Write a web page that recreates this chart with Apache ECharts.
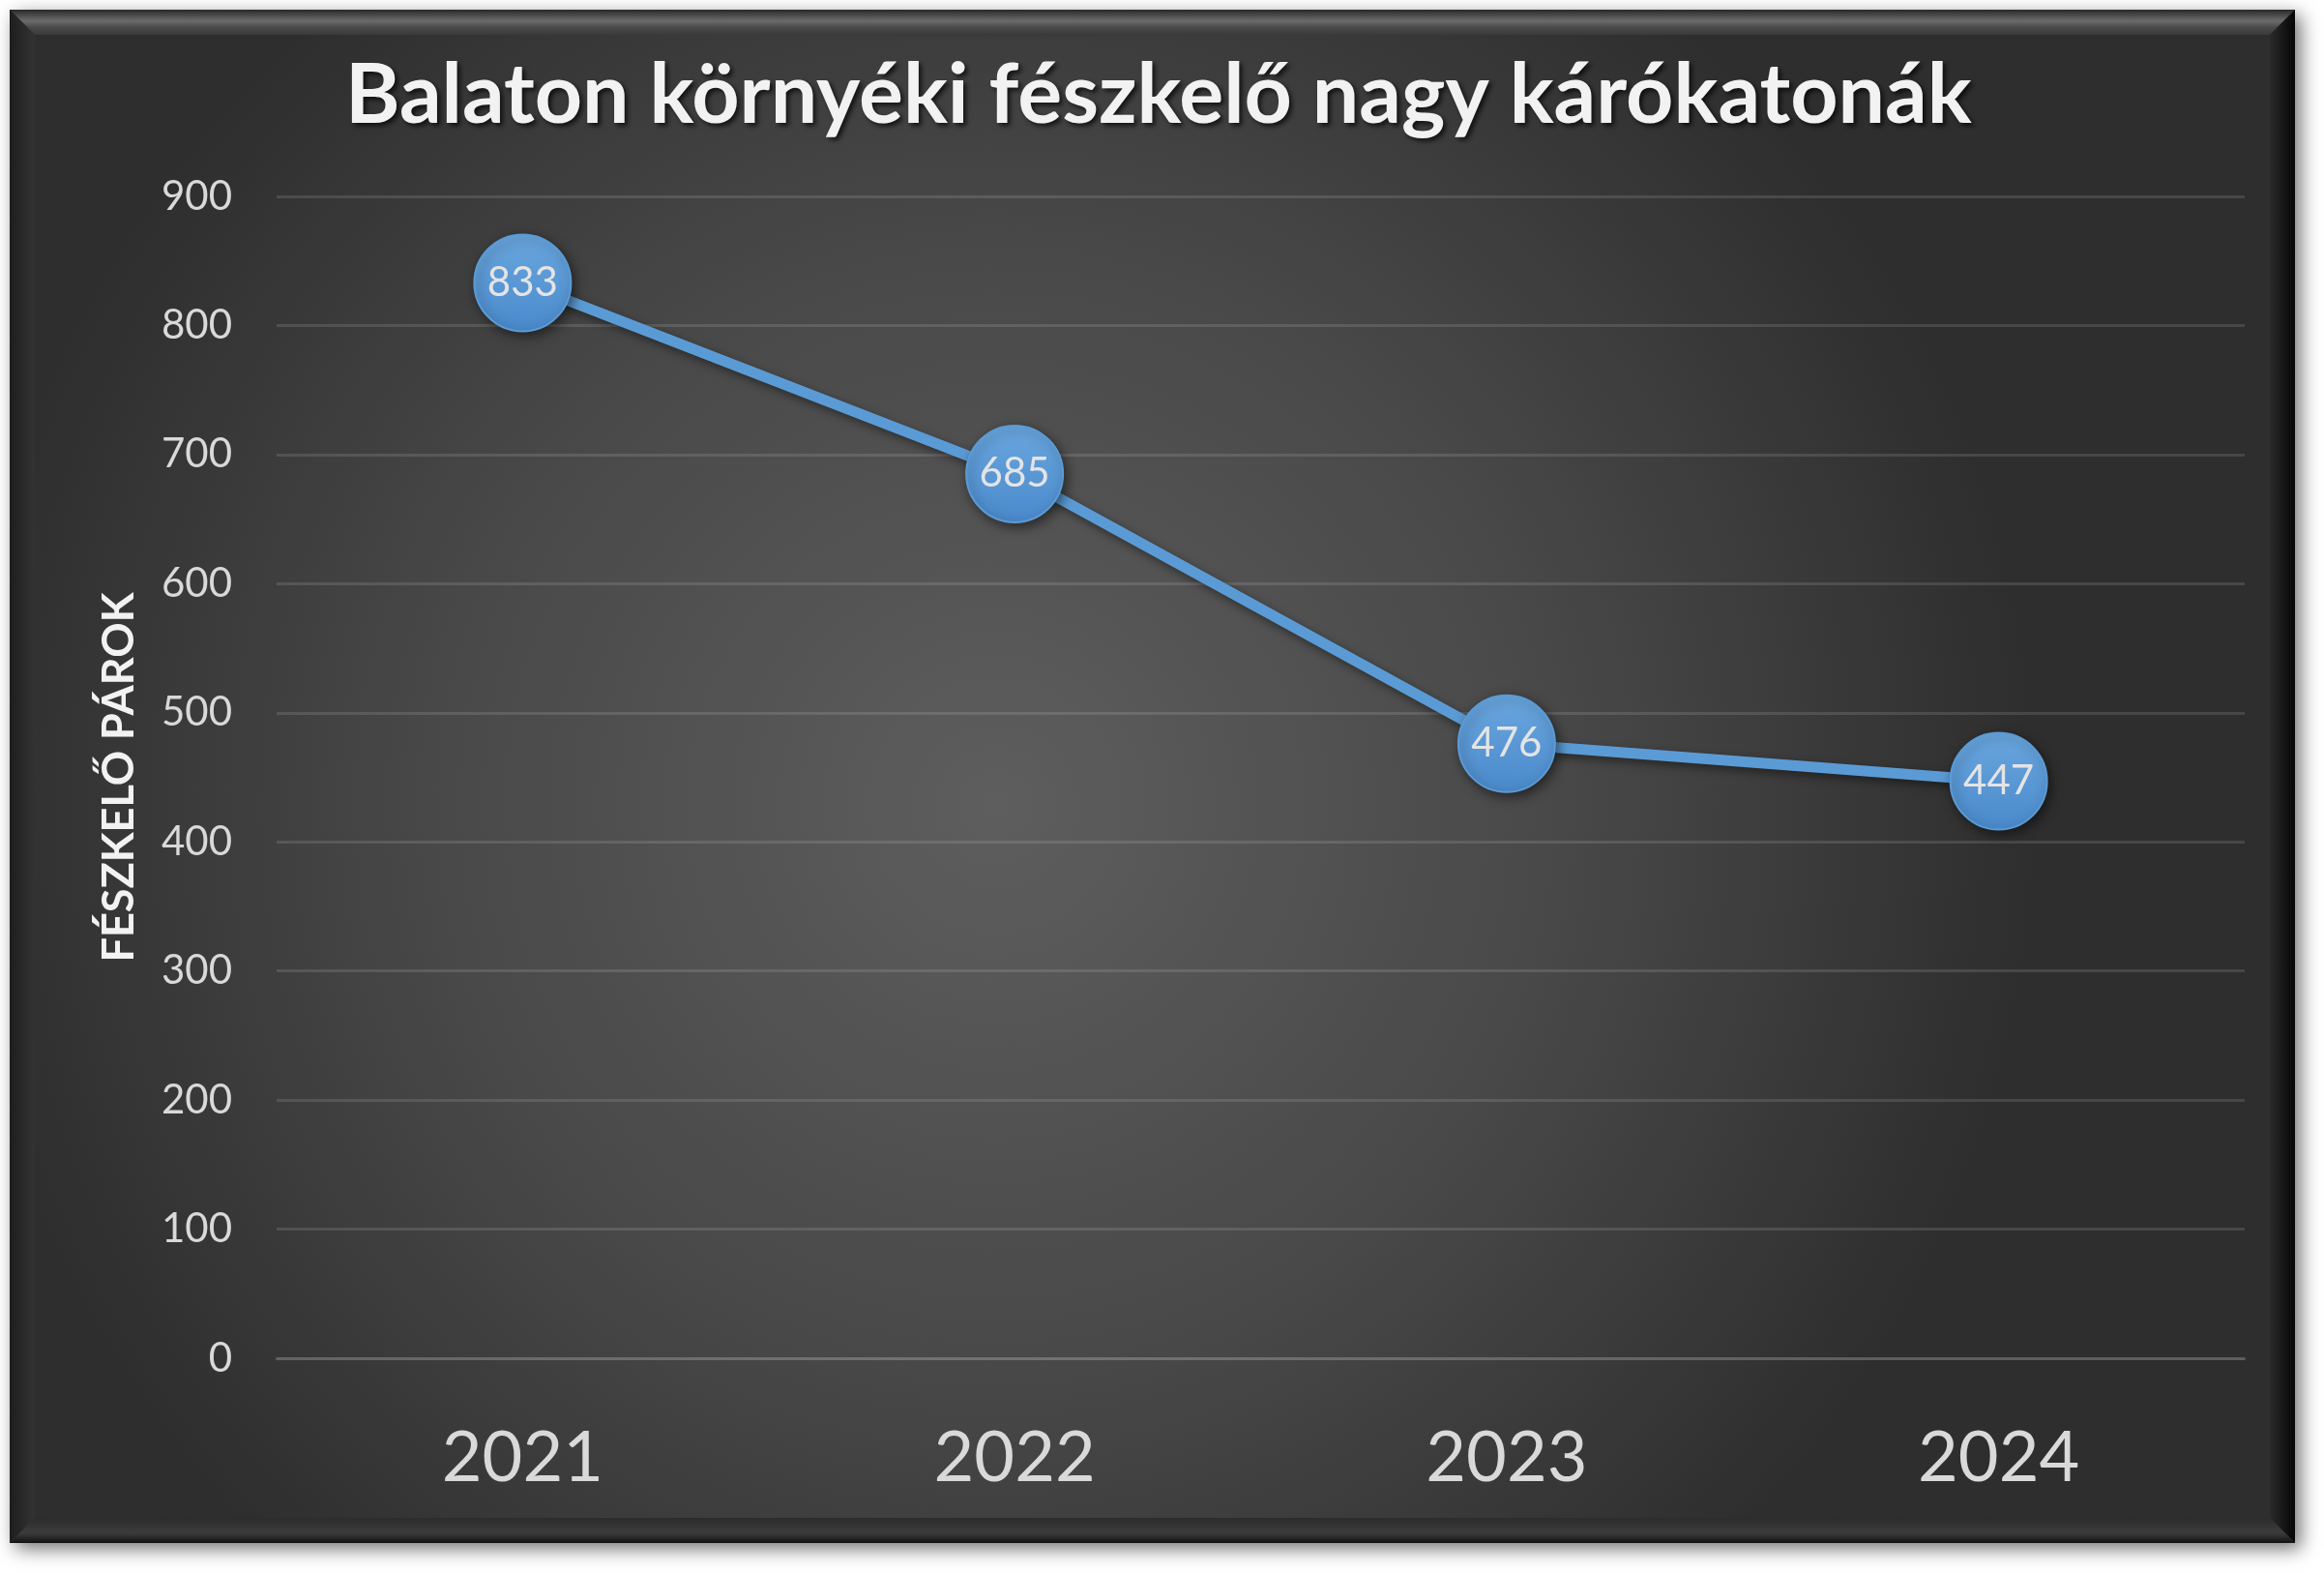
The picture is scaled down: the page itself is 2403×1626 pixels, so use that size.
<!DOCTYPE html>
<html>
<head>
<meta charset="utf-8">
<script src="https://cdn.jsdelivr.net/npm/echarts@6/dist/echarts.min.js"></script>
<style>
html,body{margin:0;padding:0;background:#ffffff;}
#chart{width:2403px;height:1626px;}
</style>
</head>
<body>
<div id="chart"></div>
<script>
const titleText = 'Balaton környéki fészkelő nagy kárókatonák';
const yAxisName = 'FÉSZKELŐ PÁROK';
const years = ['2021', '2022', '2023', '2024'];
const pairs = [833, 685, 476, 447];
const yTicks = [0, 100, 200, 300, 400, 500, 600, 700, 800, 900];

const chart = echarts.init(document.getElementById('chart'), null, {renderer: 'canvas'});

const L = 10, T = 10, R = 2373, B = 1595, W = 26;
const frame = [
  {type: 'rect', z: -100, shape: {x: L, y: T, width: R - L, height: B - T},
   style: {fill: '#333', shadowBlur: 18, shadowColor: 'rgba(0,0,0,0.55)', shadowOffsetX: 6, shadowOffsetY: 6}},
  {type: 'rect', z: -99, shape: {x: L + W, y: T + W, width: R - L - 2 * W, height: B - T - 2 * W},
   style: {fill: {type: 'radial', x: 0.43, y: 0.52, r: 0.7,
     colorStops: [{offset: 0, color: '#5e5e5e'}, {offset: 0.55, color: '#484848'}, {offset: 1, color: '#2e2e2e'}]}}},
  {type: 'polygon', z: -98, shape: {points: [[L, T], [R, T], [R - W, T + W], [L + W, T + W]]},
   style: {fill: {type: 'linear', x: 0, y: 0, x2: 0, y2: 1,
     colorStops: [{offset: 0, color: '#2a2a2a'}, {offset: 0.45, color: '#6b6b6b'}, {offset: 0.7, color: '#4a4a4a'}, {offset: 1, color: '#3a3a3a'}]}}},
  {type: 'polygon', z: -98, shape: {points: [[L, T], [L + W, T + W], [L + W, B - W], [L, B]]},
   style: {fill: {type: 'linear', x: 0, y: 0, x2: 1, y2: 0,
     colorStops: [{offset: 0, color: '#1e1e1e'}, {offset: 1, color: '#333333'}]}}},
  {type: 'polygon', z: -98, shape: {points: [[R, T], [R, B], [R - W, B - W], [R - W, T + W]]},
   style: {fill: {type: 'linear', x: 0, y: 0, x2: 1, y2: 0,
     colorStops: [{offset: 0, color: '#2a2a2a'}, {offset: 1, color: '#050505'}]}}},
  {type: 'polygon', z: -98, shape: {points: [[L, B], [L + W, B - W], [R - W, B - W], [R, B]]},
   style: {fill: {type: 'linear', x: 0, y: 0, x2: 0, y2: 1,
     colorStops: [{offset: 0, color: '#2c2c2c'}, {offset: 0.6, color: '#3c3c3c'}, {offset: 1, color: '#111111'}]}}}
];

const option = {
  backgroundColor: '#ffffff',
  animation: false,
  graphic: {elements: frame},
  title: {
    text: titleText,
    left: 352,
    top: 51,
    textStyle: {
      fontFamily: 'Lato', fontWeight: 'bold', fontSize: 86, color: '#f2f2f2',
      textShadowColor: 'rgba(0,0,0,0.7)', textShadowBlur: 5, textShadowOffsetX: 3, textShadowOffsetY: 3
    }
  },
  grid: {left: 286, right: 82, top: 203, bottom: 222, containLabel: false},
  xAxis: {
    type: 'category',
    data: years,
    boundaryGap: true,
    axisLine: {show: true, lineStyle: {color: 'rgba(255,255,255,0.12)', width: 3}},
    axisTick: {show: false},
    axisLabel: {fontFamily: 'Lato', fontSize: 72, color: '#d9d9d9', margin: 68}
  },
  yAxis: {
    type: 'value',
    min: yTicks[0],
    max: yTicks[yTicks.length - 1],
    interval: yTicks[1] - yTicks[0],
    name: yAxisName,
    nameLocation: 'middle',
    nameRotate: 90,
    nameGap: 140,
    nameTextStyle: {fontFamily: 'Lato', fontWeight: 'bold', fontSize: 45, color: '#f2f2f2'},
    axisLine: {show: false},
    axisTick: {show: false},
    axisLabel: {fontFamily: 'Lato', fontSize: 42, color: '#d9d9d9', margin: 46},
    splitLine: {show: true, lineStyle: {color: 'rgba(255,255,255,0.12)', width: 3}}
  },
  series: [{
    type: 'line',
    data: pairs,
    symbol: 'circle',
    symbolSize: 100,
    z: 5,
    lineStyle: {color: '#5b9bd5', width: 11, shadowColor: 'rgba(0,0,0,0.45)', shadowBlur: 10, shadowOffsetX: 3, shadowOffsetY: 4},
    itemStyle: {
      color: {type: 'linear', x: 0, y: 0, x2: 0, y2: 1,
        colorStops: [{offset: 0, color: '#6aa7df'}, {offset: 1, color: '#4a89cb'}]},
      borderColor: '#5b9bd5', borderWidth: 2,
      shadowColor: 'rgba(0,0,0,0.5)', shadowBlur: 12, shadowOffsetX: 3, shadowOffsetY: 4
    },
    label: {show: true, position: 'inside', fontFamily: 'Lato', fontSize: 42, color: '#e4e4e4'}
  }]
};
chart.setOption(option);
</script>
</body>
</html>
